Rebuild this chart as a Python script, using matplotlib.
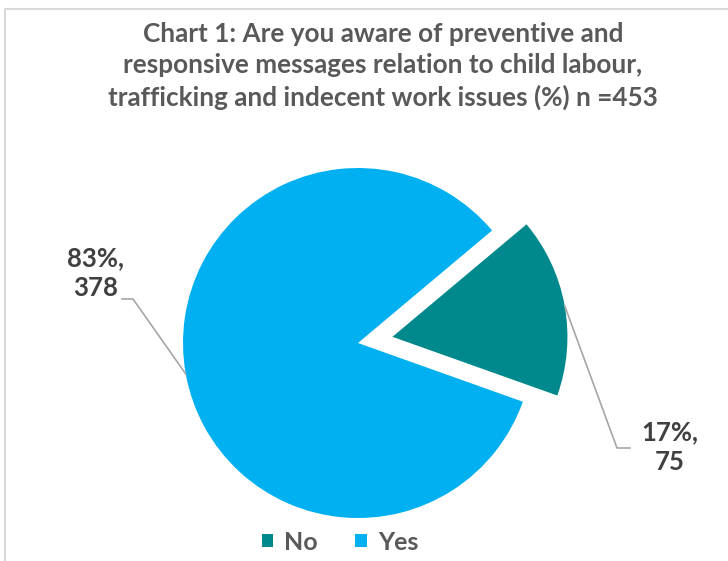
import numpy as np
import matplotlib.pyplot as plt
from matplotlib.patches import Rectangle

labels = ['No', 'Yes']
counts = [75, 378]
pcts = ['17%', '83%']
colors = ['#00898C', '#00B0F0']
title = ('Chart 1: Are you aware of preventive and\n'
         'responsive messages relation to child labour,\n'
         'trafficking and indecent work issues (%) n =453')

W, H = 728, 561
txt = '#404040'
font = 'Lato'

fig = plt.figure(figsize=(W / 100, H / 100), dpi=100)
ax = fig.add_axes([0, 0, 1, 1])

# chart border (excel-ish)
fig.patches.append(Rectangle((5 / W, -0.1), 2, 1.1 - 9 / H, transform=fig.transFigure,
                             fill=False, edgecolor='#D9D9D9', lw=1.5))

cx, cy, r = 358, H - 343, 175
# explode is in data units here (pixels), not a fraction
wedges, _ = ax.pie(counts, colors=colors, startangle=40, counterclock=False,
                   explode=[0.2 * r, 0], center=(cx, cy), radius=r, frame=True)
ax.set_xlim(0, W)
ax.set_ylim(0, H)
ax.set_aspect('equal')
ax.axis('off')

fig.text(383 / W, 1 - 66 / H, title, ha='center', va='center', fontsize=18.8,
         fontweight='bold', color='#595959', family=font, linespacing=1.36)

# data labels with leader lines
lab_pos = {'No': (670, H - 447), 'Yes': (96, H - 273)}
elbow = {'No': (617, 630), 'Yes': (133, 122)}
for w, lab, c, p in zip(wedges, labels, counts, pcts):
    mid = np.deg2rad((w.theta1 + w.theta2) / 2)
    wx, wy = w.center
    ex, ey = wx + w.r * np.cos(mid), wy + w.r * np.sin(mid)
    tx, ty = lab_pos[lab]
    x1, x2 = elbow[lab]
    ly = H - 448 if lab == 'No' else H - 299
    ax.plot([ex, x1, x2], [ey, ly, ly], color='#A6A6A6', lw=1.2)
    ax.text(tx, ty, f'{p},\n{c}', ha='center', va='center', fontsize=18.5,
            fontweight='bold', color=txt, family=font, linespacing=1.3)

# legend
leg = ax.legend(wedges, labels, loc='center', bbox_to_anchor=(340 / W, 1 - 542 / H),
                ncol=2, frameon=False, handlelength=0.45, handleheight=0.45,
                columnspacing=1.5, handletextpad=0.45,
                prop={'family': font, 'weight': 'bold', 'size': 18})
for t in leg.get_texts():
    t.set_color('#595959')

fig.savefig('out.png', dpi=100)
